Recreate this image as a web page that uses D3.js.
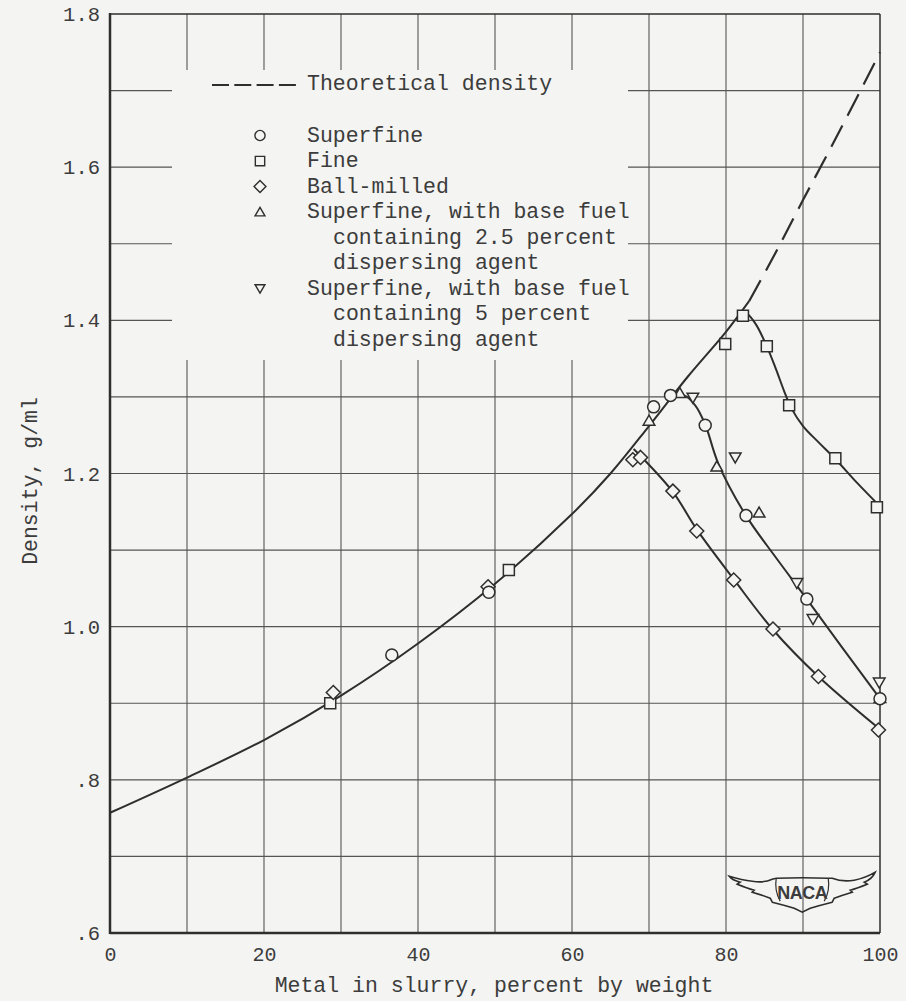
<!DOCTYPE html>
<html>
<head>
<meta charset="utf-8">
<script src="https://cdn.jsdelivr.net/npm/d3@7"></script>
<style>
  html, body { margin: 0; padding: 0; background: #f4f4f2; }
  svg { display: block; }
  text { font-family: "Liberation Mono", "DejaVu Sans Mono", monospace; fill: #3c3c3c; }
</style>
</head>
<body>
<svg id="chart" width="906" height="1001"></svg>
<script>
// Smooth curve through the theoretical-density values (solid part)
const theoryPct     = [0, 10, 20, 30, 40, 50, 60, 65, 70, 75, 80, 83];
const theoryDensity = [0.757, 0.803, 0.852, 0.910, 0.978, 1.056, 1.147, 1.200, 1.262, 1.326, 1.385, 1.425];
// Theoretical density continued as a dashed line
const theoryDashPct     = [83, 86, 90, 95, 100];
const theoryDashDensity = [1.425, 1.48, 1.557, 1.652, 1.75];

// Faired curves where each slurry departs from theoretical density
const fineCurvePct      = [81.5, 82.5, 83.8, 85.3, 86.5, 87.5, 88.5, 90, 92, 94.2, 97, 100];
const fineCurveDensity  = [1.402, 1.410, 1.396, 1.366, 1.336, 1.309, 1.285, 1.262, 1.241, 1.219, 1.188, 1.157];
const superCurvePct     = [73, 74.5, 76, 77.3, 79, 82.6, 86.5, 90.5, 95, 100];
const superCurveDensity = [1.298, 1.302, 1.289, 1.264, 1.213, 1.145, 1.090, 1.036, 0.974, 0.906];
const ballCurvePct      = [68, 69, 73.1, 76.2, 81, 86.1, 92, 100];
const ballCurveDensity  = [1.232, 1.222, 1.176, 1.127, 1.062, 0.996, 0.935, 0.866];

// Measured points
const superfinePct     = [36.6, 49.2, 70.6, 72.8, 77.3, 82.6, 90.5, 100];
const superfineDensity = [0.963, 1.045, 1.287, 1.302, 1.263, 1.145, 1.036, 0.906];
const finePct          = [28.6, 51.8, 79.9, 82.2, 85.3, 88.2, 94.2, 99.6];
const fineDensity      = [0.900, 1.074, 1.369, 1.406, 1.366, 1.289, 1.220, 1.156];
const ballPct          = [29.0, 49.1, 67.9, 68.9, 73.1, 76.2, 81.0, 86.1, 92.0, 99.8];
const ballDensity      = [0.914, 1.052, 1.218, 1.221, 1.177, 1.125, 1.061, 0.997, 0.935, 0.865];
const agent25Pct       = [70.0, 74.0, 78.8, 84.3, 100];
const agent25Density   = [1.269, 1.305, 1.209, 1.149, 0.907];
const agent5Pct        = [75.7, 81.2, 89.2, 91.3, 99.9];
const agent5Density    = [1.299, 1.221, 1.057, 1.010, 0.927];

// Axis ticks
const xTicks = [0, 20, 40, 60, 80, 100];
const xTickLabels = ["0", "20", "40", "60", "80", "100"];
const yTicks = [0.6, 0.8, 1.0, 1.2, 1.4, 1.6, 1.8];
const yTickLabels = [".6", ".8", "1.0", "1.2", "1.4", "1.6", "1.8"];
const xGrid = [10, 20, 30, 40, 50, 60, 70, 80, 90];
const yGrid = [0.7, 0.8, 0.9, 1.0, 1.1, 1.2, 1.3, 1.4, 1.5, 1.6, 1.7];

// Legend
const legendShapes = ["circle", "square", "diamond", "up", "down"];
const legendLabels = [
  ["Superfine"],
  ["Fine"],
  ["Ball-milled"],
  ["Superfine, with base fuel", "containing 2.5 percent", "dispersing agent"],
  ["Superfine, with base fuel", "containing 5 percent", "dispersing agent"]
];

const svg = d3.select("#chart");
const ink = "#2e2e2e";
const paper = "#f4f4f2";

const x = d3.scaleLinear().domain([0, 100]).range([110, 880]);
const y = d3.scaleLinear().domain([0.6, 1.8]).range([933, 14]);

// Grid
const grid = svg.append("g").attr("stroke", "#555").attr("stroke-width", 1.1);
grid.selectAll("line.v").data(xGrid).join("line")
  .attr("x1", d => x(d)).attr("x2", d => x(d))
  .attr("y1", y(1.8)).attr("y2", y(0.6));
grid.selectAll("line.h").data(yGrid).join("line")
  .attr("x1", x(0)).attr("x2", x(100))
  .attr("y1", d => y(d)).attr("y2", d => y(d));

// Clear space for the legend block
svg.append("rect")
  .attr("x", 172).attr("y", 70).attr("width", 456).attr("height", 290)
  .attr("fill", paper);

// Frame
svg.append("line").attr("x1", x(0)).attr("x2", x(100)).attr("y1", y(1.8)).attr("y2", y(1.8))
  .attr("stroke", ink).attr("stroke-width", 1.5);
svg.append("line").attr("x1", x(100)).attr("x2", x(100)).attr("y1", y(1.8)).attr("y2", y(0.6))
  .attr("stroke", ink).attr("stroke-width", 1.5);
svg.append("line").attr("x1", x(0)).attr("x2", x(0)).attr("y1", y(1.8) - 1).attr("y2", y(0.6) + 1)
  .attr("stroke", ink).attr("stroke-width", 2.5);
svg.append("line").attr("x1", x(0)).attr("x2", x(100)).attr("y1", y(0.6)).attr("y2", y(0.6))
  .attr("stroke", ink).attr("stroke-width", 2.5);

// Axes labels
const xAxis = d3.axisBottom(x).tickValues(xTicks)
  .tickFormat((d, i) => xTickLabels[i]).tickSize(0).tickPadding(14);
svg.append("g").attr("transform", `translate(0,${y(0.6)})`).call(xAxis)
  .call(g => g.select(".domain").remove())
  .selectAll("text").attr("font-size", 20).attr("fill", "#3c3c3c")
  .attr("font-family", "Liberation Mono, monospace");

const yAxis = d3.axisLeft(y).tickValues(yTicks)
  .tickFormat((d, i) => yTickLabels[i]).tickSize(0).tickPadding(10);
svg.append("g").attr("transform", `translate(${x(0)},0)`).call(yAxis)
  .call(g => g.select(".domain").remove())
  .selectAll("text").attr("font-size", 20.5).attr("fill", "#3c3c3c")
  .attr("font-family", "Liberation Mono, monospace");

svg.append("text").attr("x", 494).attr("y", 992).attr("text-anchor", "middle")
  .attr("font-size", 21.5).text("Metal in slurry, percent by weight");
svg.append("text").attr("transform", "translate(37,481) rotate(-90)").attr("text-anchor", "middle")
  .attr("font-size", 21.5).text("Density, g/ml");

// Curves
const line = d3.line().x(d => x(d[0])).y(d => y(d[1])).curve(d3.curveCatmullRom.alpha(0.5));
const zip = (a, b) => a.map((v, i) => [v, b[i]]);
const curves = svg.append("g").attr("fill", "none").attr("stroke", ink).attr("stroke-width", 2);
curves.append("path").attr("d", line(zip(theoryPct, theoryDensity)));
curves.append("path").attr("d", line(zip(theoryDashPct, theoryDashDensity)))
  .attr("stroke-dasharray", "24,11").attr("stroke-width", 2.2);
curves.append("path").attr("d", line(zip(fineCurvePct, fineCurveDensity)));
curves.append("path").attr("d", line(zip(superCurvePct, superCurveDensity)));
curves.append("path").attr("d", line(zip(ballCurvePct, ballCurveDensity)));

// Marker shapes
function markerPath(shape, s) {
  const p = d3.path();
  if (shape === "circle") { p.moveTo(6 * s, 0); p.arc(0, 0, 6 * s, 0, 2 * Math.PI); }
  else if (shape === "square") { p.rect(-5.5 * s, -5.5 * s, 11 * s, 11 * s); }
  else if (shape === "diamond") {
    p.moveTo(0, -7 * s); p.lineTo(7 * s, 0); p.lineTo(0, 7 * s); p.lineTo(-7 * s, 0); p.closePath();
  } else if (shape === "up") {
    p.moveTo(0, -5.5 * s); p.lineTo(5.8 * s, 4.5 * s); p.lineTo(-5.8 * s, 4.5 * s); p.closePath();
  } else {
    p.moveTo(0, 5.5 * s); p.lineTo(5.8 * s, -4.5 * s); p.lineTo(-5.8 * s, -4.5 * s); p.closePath();
  }
  return p.toString();
}

const pointSets = [
  { shape: "square", xs: finePct, ys: fineDensity },
  { shape: "diamond", xs: ballPct, ys: ballDensity },
  { shape: "up", xs: agent25Pct, ys: agent25Density },
  { shape: "down", xs: agent5Pct, ys: agent5Density },
  { shape: "circle", xs: superfinePct, ys: superfineDensity }
];
const pts = svg.append("g").attr("fill", paper).attr("stroke", ink).attr("stroke-width", 1.5);
pointSets.forEach(set => {
  pts.selectAll(null).data(zip(set.xs, set.ys)).join("path")
    .attr("transform", d => `translate(${x(d[0])},${y(d[1])})`)
    .attr("d", markerPath(set.shape, 1));
});

// Legend
const leg = svg.append("g");
leg.append("line").attr("x1", 212).attr("x2", 296).attr("y1", 85).attr("y2", 85)
  .attr("stroke", ink).attr("stroke-width", 2.2).attr("stroke-dasharray", "17,5.3");
leg.append("text").attr("x", 307).attr("y", 90).attr("font-size", 21.5).text("Theoretical density");

let row = 0;
legendShapes.forEach((shape, i) => {
  const base = 141.5 + row * 25.5;
  leg.append("path").attr("transform", `translate(260,${base - 6})`)
    .attr("d", markerPath(shape, 0.85))
    .attr("fill", "none").attr("stroke", ink).attr("stroke-width", 1.4);
  legendLabels[i].forEach((t, j) => {
    leg.append("text").attr("x", j === 0 ? 307 : 333).attr("y", base + j * 25.5)
      .attr("font-size", 21.5).text(t);
  });
  row += legendLabels[i].length;
});

// NACA wing emblem
const logo = svg.append("g").attr("transform", `translate(${x(89.9)},${y(0.652)})`);
logo.append("path")
  .attr("d", "M-73,-17 Q-60,-13 -50,-12 Q-38,-10 -30,-14 L-26,-15 Q0,-16 26,-15 L30,-15 Q40,-11 52,-13 Q63,-15 73,-21 " +
             "Q70,-14 62,-11 L65,-9 Q55,-5 48,-3 L50,-1 Q40,2 32,5 L30,9 Q18,12 8,15 L0,19 L-8,15 Q-18,12 -30,9 L-32,5 " +
             "Q-40,2 -50,-1 L-48,-3 Q-55,-5 -65,-9 L-62,-11 Q-70,-13 -73,-17 Z")
  .attr("fill", "none").attr("stroke", ink).attr("stroke-width", 1.6);
logo.append("path")
  .attr("d", "M-26,-15 Q-28,-2 -22,8 M26,-15 Q28,-2 22,8")
  .attr("fill", "none").attr("stroke", ink).attr("stroke-width", 1.2);
logo.append("text").attr("x", 0).attr("y", 6).attr("text-anchor", "middle")
  .attr("font-family", "Liberation Sans, Arial, sans-serif").attr("font-weight", "bold")
  .attr("font-size", 18).attr("fill", "#2a2a2a").attr("letter-spacing", -0.5)
  .style("font-family", "Liberation Sans, Arial, sans-serif").text("NACA");
</script>
</body>
</html>
